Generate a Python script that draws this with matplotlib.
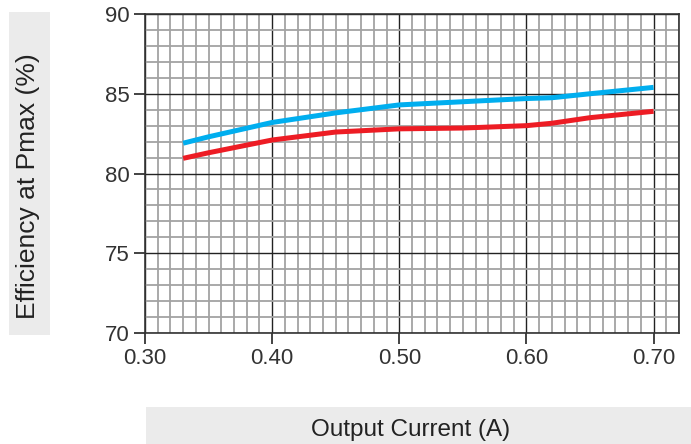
import matplotlib
matplotlib.use("Agg")
import matplotlib.pyplot as plt
from matplotlib.patches import Rectangle
from matplotlib.ticker import MultipleLocator

plt.rcParams['font.family'] = ['Liberation Sans', 'DejaVu Sans']

# --- dados ---
current = [0.33, 0.35, 0.40, 0.45, 0.50, 0.55, 0.60, 0.62, 0.65, 0.70]
eff_blue = [81.9, 82.3, 83.2, 83.8, 84.3, 84.5, 84.7, 84.75, 85.0, 85.4]
eff_red = [80.95, 81.3, 82.1, 82.6, 82.8, 82.85, 83.0, 83.15, 83.5, 83.9]

x_ticks = [0.30, 0.40, 0.50, 0.60, 0.70]
y_ticks = [70, 75, 80, 85, 90]

W, H = 691, 444
fig = plt.figure(figsize=(W / 100, H / 100), dpi=100)
ax = fig.add_axes([145 / W, 1 - 333 / H, 534 / W, 319 / H])

# caixas cinzas dos rótulos
fig.patches.append(Rectangle((9 / W, 1 - 335 / H), 41 / W, 323 / H,
                             transform=fig.transFigure, facecolor='#ebebeb',
                             edgecolor='none', zorder=0))
fig.patches.append(Rectangle((146 / W, 0), (W - 146) / W, 37 / H,
                             transform=fig.transFigure, facecolor='#ebebeb',
                             edgecolor='none', zorder=0))
fig.text(28 / W, 1 - 186 / H, 'Efficiency at Pmax (%)', rotation=90,
         ha='center', va='center', fontsize=19, color='#222222')
fig.text(411 / W, 1 - 430 / H, 'Output Current (A)', ha='center', va='center',
         fontsize=17.5, color='#222222')

ax.plot(current, eff_blue, color='#00aeef', lw=3.6, solid_capstyle='butt', zorder=5)
ax.plot(current, eff_red, color='#ed1c24', lw=3.6, solid_capstyle='butt', zorder=5)

ax.set_xlim(0.30, 0.72)
ax.set_ylim(70, 90)
ax.set_xticks(x_ticks)
ax.set_xticklabels([f'{v:.2f}' for v in x_ticks])
ax.set_yticks(y_ticks)
ax.xaxis.set_minor_locator(MultipleLocator(0.01))
ax.yaxis.set_minor_locator(MultipleLocator(1))

ax.grid(which='minor', color='#a3a3a3', lw=1.3, zorder=1)
ax.grid(which='major', color='#222222', lw=1.0, zorder=2)
ax.set_axisbelow(True)

ax.tick_params(which='major', length=8, width=1.2, color='#222222',
               labelsize=16, labelcolor='#333333', pad=3)
ax.tick_params(which='minor', length=0)
for s in ax.spines.values():
    s.set_color('#333333')
    s.set_linewidth(1.2)

fig.savefig('out.png', dpi=100)
